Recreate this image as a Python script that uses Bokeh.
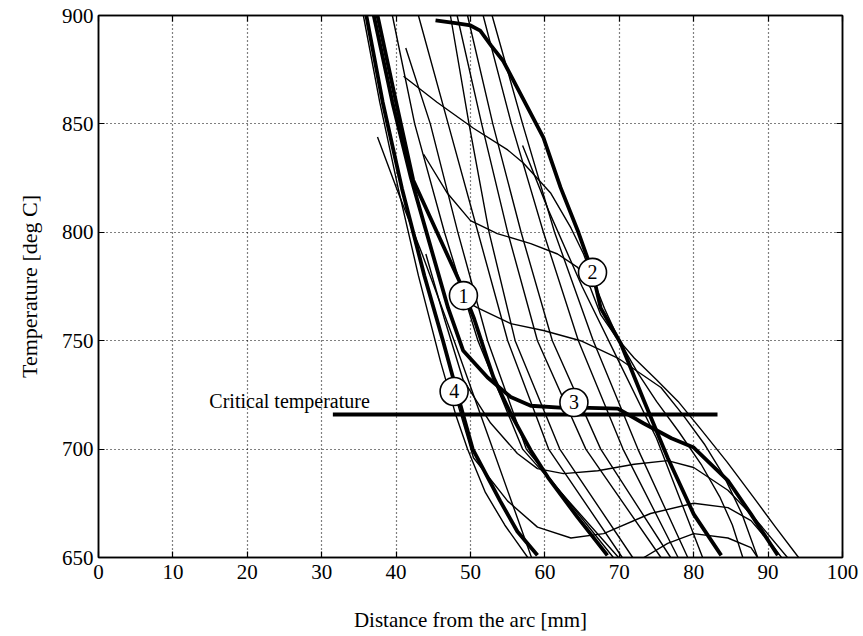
from bokeh.plotting import figure
from bokeh.models import LinearAxis, FixedTicker, Range1d
from bokeh.embed import file_html
from bokeh.resources import INLINE
from bokeh.core.properties import value

FONT = "Liberation Serif"

x_ticks = [0, 10, 20, 30, 40, 50, 60, 70, 80, 90, 100]
y_ticks = [650, 700, 750, 800, 850, 900]

# ---- thick curves (distance mm, temperature degC) ----
c1_x = [37.5, 40.0, 42.3, 45.5, 48.7, 50.5, 52.3, 53.1, 55.4, 58.1, 60.4, 64.4, 68.4]
c1_t = [900, 860, 824, 800, 776, 760, 741, 733, 716.4, 699.4, 687, 668.5, 651]

c2_x = [45.3, 48.0, 50.0, 51.3, 52.8, 54.4, 57.0, 59.8, 62.1, 64.5, 66.4, 67.5, 70.2, 73.3, 76.5, 80.0, 83.7]
c2_t = [897.7, 896.5, 895.4, 893, 886, 879, 862, 843.7, 820.7, 800, 781.6, 765, 748.7, 722.4, 696, 670, 651]

c3_x = [37.0, 39.5, 42.0, 44.5, 47.0, 49.0, 52.3, 55.4, 58.1, 62.5, 66.0, 69.8, 73.3, 77.0, 80.0, 84.6, 87.7, 91.3]
c3_t = [900, 860, 825, 795, 765, 745.5, 733, 724, 720, 719, 719, 718.7, 711.8, 705, 700.7, 685.5, 670, 651]

c4_x = [36.0, 38.2, 40.8, 43.8, 46.3, 49.0, 50.3, 54.0, 56.3, 59.0]
c4_t = [900, 860, 820, 780, 750, 716, 700, 676, 662, 651]

# ---- thin steep curves ----
t_full = [900, 850, 800, 750, 700, 650]
b1_x = [35.6, 37.8, 40.3, 43.0, 46.0, 48.0, 49.6, 52.0, 54.6, 57.7]
b1_t = [900, 860, 820, 780, 740, 716, 700, 680, 665, 650]
s1_x = [41.3, 44.6, 48.3, 52.3, 57.5, 69.2]
s1_t = [885, 850, 800, 750, 700, 650]
s2_x = [43.0, 47.0, 51.0, 55.0, 60.5, 70.4]
s3_x = [47.3, 49.8, 52.5, 56.0, 62.0, 71.8]
s4_x = [48.2, 51.5, 55.0, 59.0, 65.5, 75.6]
s5_x = [49.6, 53.0, 56.8, 61.0, 67.5, 76.9]
s6_x = [51.7, 55.5, 59.8, 64.5, 70.5, 77.9]
s7_x = [52.9, 57.0, 61.3, 66.5, 72.5, 79.2]
s8_x = [57.0, 60.5, 65.0, 70.0, 75.0, 81.2]
s8_t = [840, 810, 775, 740, 705, 650]
s9_x = [39.5, 42.5, 46.5, 51.0, 57.0, 69.9]
s10_x = [37.5, 40.2, 43.5, 47.8, 53.0, 58.2]
s10_t = [844, 819, 790, 750, 700, 650]

# ---- thin wavy curves ----
w1_x = [41.0, 45.5, 50.4, 55.0, 57.1, 60.8, 63.5, 65.2, 66.5, 68.0, 70.0, 72.5, 75.0, 78.0, 81.0, 83.5, 85.2, 86.6]
w1_t = [872, 860, 848, 838, 832, 818, 802, 790, 778, 765, 750, 735, 722, 708, 693, 678, 665, 650]
w2_x = [43.7, 46.9, 50.0, 53.6, 58.1, 61.7, 64.4, 66.1, 67.5, 69.5, 72.0, 75.0, 77.9, 81.0, 84.5, 88.0, 91.0, 94.1]
w2_t = [836, 818, 805.4, 799.4, 794.8, 790, 783.8, 774.5, 762, 752, 742, 732, 722, 709, 694, 678, 664, 650]
w3_x = [49.5, 50.9, 55.4, 59.8, 64.8, 69.8, 75.6, 78.5, 81.5, 84.0, 86.5, 88.6]
w3_t = [768, 765.3, 757.9, 754.7, 750, 742, 728.4, 716, 702, 688, 670, 650]
w4_x = [44.0, 46.5, 49.0, 52.7, 56.3, 59.0, 62.5, 67.1, 72.0, 76.5, 80.0, 84.6, 88.1, 92.6]
w4_t = [790, 760, 732, 712, 698, 691, 688.7, 690, 693, 694.7, 691.5, 681, 668.5, 650]
w5_x = [47.5, 50.4, 55.0, 59.0, 63.5, 67.9, 74.2, 80.0, 84.6, 87.7, 90.8, 91.8]
w5_t = [730, 696, 676, 664, 659, 661, 670.3, 675, 673, 667, 654.6, 650]
w6_x = [73.3, 76.5, 80.0, 84.6, 87.7, 88.6]
w6_t = [650, 656.5, 661, 659, 654.6, 650]

crit_x = [31.5, 83.2]
crit_t = [716, 716]

label_x = [49.05, 66.4, 63.9, 47.8]
label_t = [770.8, 781.5, 721.5, 726.6]
label_txt = ["1", "2", "3", "4"]

p = figure(width=863, height=636, x_range=Range1d(0, 100), y_range=Range1d(650, 900),
           output_backend="svg", toolbar_location=None,
           min_border_left=98, min_border_right=21, min_border_top=15, min_border_bottom=79)
p.background_fill_color = "white"
p.border_fill_color = "white"
p.outline_line_color = "black"
p.outline_line_width = 1.5

xa = p.xaxis[0]
ya = p.yaxis[0]
xa.ticker = FixedTicker(ticks=x_ticks)
ya.ticker = FixedTicker(ticks=y_ticks)

ra = LinearAxis(ticker=FixedTicker(ticks=y_ticks),
                major_label_overrides={v: "" for v in y_ticks}, major_label_standoff=0)
ta = LinearAxis(ticker=FixedTicker(ticks=x_ticks),
                major_label_overrides={v: "" for v in x_ticks}, major_label_standoff=0)
p.add_layout(ra, "right")
p.add_layout(ta, "above")

for ax in (xa, ya, ra, ta):
    ax.major_tick_in = 6
    ax.major_tick_out = 0
    ax.minor_tick_line_color = None
    ax.axis_line_color = "black"
    ax.axis_line_width = 1.5
    ax.major_tick_line_color = "black"
    ax.major_tick_line_width = 1.2
    ax.major_label_text_font = FONT
    ax.major_label_text_color = "black"

xa.major_label_text_font_size = "21px"
ya.major_label_text_font_size = "21px"
xa.major_label_standoff = 7
ya.major_label_standoff = 5
xa.axis_label = "Distance from the arc [mm]"
ya.axis_label = "Temperature [deg C]"
for ax in (xa, ya):
    ax.axis_label_text_font = FONT
    ax.axis_label_text_font_style = "normal"
    ax.axis_label_text_color = "black"
xa.axis_label_text_font_size = "21px"
ya.axis_label_text_font_size = "22px"
xa.axis_label_standoff = 26
ya.axis_label_standoff = 17

p.xgrid.ticker = FixedTicker(ticks=x_ticks)
p.ygrid.ticker = FixedTicker(ticks=y_ticks)
for g in (p.xgrid, p.ygrid):
    g.grid_line_color = "black"
    g.grid_line_dash = "1 3"
    g.grid_line_width = 1.2

thin = [(b1_x, b1_t), (s1_x, s1_t), (s2_x, t_full), (s3_x, t_full), (s4_x, t_full),
        (s5_x, t_full), (s6_x, t_full), (s7_x, t_full), (s8_x, s8_t), (s9_x, t_full),
        (s10_x, s10_t), (w1_x, w1_t), (w2_x, w2_t), (w3_x, w3_t), (w4_x, w4_t),
        (w5_x, w5_t), (w6_x, w6_t)]
for xs, ts in thin:
    p.line(xs, ts, line_color="black", line_width=1.4, line_join="round")

for xs, ts in [(c1_x, c1_t), (c2_x, c2_t), (c3_x, c3_t), (c4_x, c4_t)]:
    p.line(xs, ts, line_color="black", line_width=3.8, line_join="round")

p.line(crit_x, crit_t, line_color="black", line_width=4)
p.text(x=[14.9], y=[722.4], text=["Critical temperature"], text_font=value(FONT),
       text_font_size="20px", text_baseline="alphabetic", text_align="left", text_color="black")

p.scatter(label_x, label_t, size=28, fill_color="white", line_color="black", line_width=1.6)
p.text(x=label_x, y=label_t, text=label_txt, text_font=value(FONT), text_font_size="20px",
       text_align="center", text_baseline="middle", text_color="black")

open("out.html", "w").write(file_html(p, INLINE))
